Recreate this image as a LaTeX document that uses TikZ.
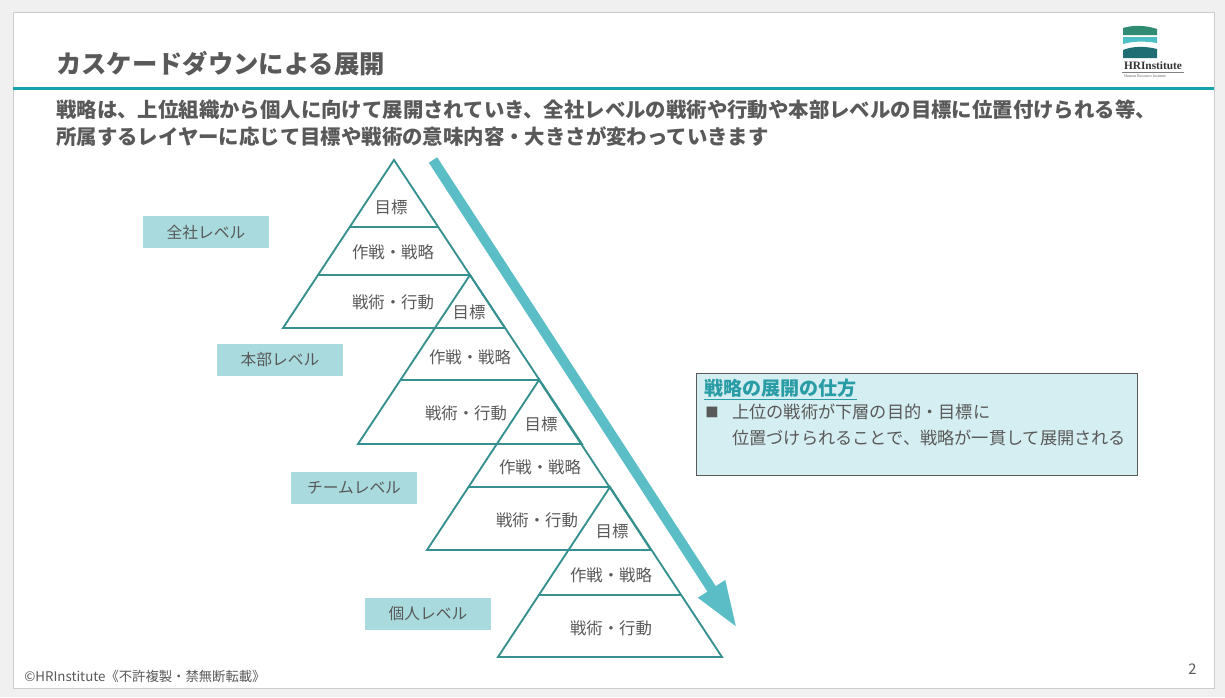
\documentclass[tikz,border=0pt]{standalone}
\usepackage{fontspec}
\setmainfont{Noto Sans CJK JP}
\newfontfamily\logofont{Liberation Serif}
\usetikzlibrary{arrows.meta}
\definecolor{txtgray}{HTML}{595959}
\definecolor{pyrline}{HTML}{35908F}
\definecolor{lvlfill}{HTML}{A8DADE}
\definecolor{flowcol}{HTML}{5BBEC6}
\definecolor{rulecol}{HTML}{14A3AE}
\definecolor{boxfill}{HTML}{D5EEF1}
\definecolor{headcol}{HTML}{2A9CA5}
\definecolor{pagebg}{HTML}{F0F0F0}
\definecolor{logogreen}{HTML}{2F8C72}
\definecolor{logocyan}{HTML}{4DC0C6}
\definecolor{logodark}{HTML}{1F6E73}

\begin{document}
\begin{tikzpicture}[x=0.75pt,y=-0.75pt,
    pyr/.style={draw=pyrline,line width=1.4pt},
    lab/.style={text=txtgray,inner sep=0pt,font=\fontsize{12.3}{14}\selectfont},
    lvl/.style={fill=lvlfill,text=txtgray,inner sep=0pt,minimum width=95pt,minimum height=24pt,font=\fontsize{11.8}{14}\selectfont},
    flow/.style={draw=flowcol,line width=7.5pt,-{Triangle[length=35pt,width=22pt]}},
    infobox/.style={draw=txtgray,fill=boxfill,line width=0.6pt,inner sep=0pt,minimum width=330.75pt,minimum height=76.5pt},
    boxtxt/.style={anchor=west,text=txtgray,inner sep=0pt,font=\fontsize{12.9}{15}\selectfont},
    plain/.style={anchor=west,text=txtgray,inner sep=0pt}]
        \useasboundingbox (0,0) rectangle (1225,697);
        \fill[pagebg] (0,0) rectangle (1225,697);
        \filldraw[fill=white,draw=black!20,line width=0.6pt] (13,12) rectangle (1214,688);
        \fill[rulecol] (13,86.5) rectangle (1214,89.5);

        \node[plain,font=\bfseries\fontsize{19}{22}\selectfont] (TITLE) at (56,64) {カスケードダウンによる展開};
        \node[plain,font=\bfseries\fontsize{15.3}{18}\selectfont] (SUB1) at (56,110) {戦略は、上位組織から個人に向けて展開されていき、全社レベルの戦術や行動や本部レベルの目標に位置付けられる等、};
        \node[plain,font=\bfseries\fontsize{15.3}{18}\selectfont] (SUB2) at (56,137) {所属するレイヤーに応じて目標や戦術の意味内容・大きさが変わっていきます};

        \fill[logogreen] (1123,28) .. controls (1133,25) and (1145,25) .. (1157,29) -- (1157,35) -- (1123,35) -- cycle;
        \fill[logocyan] (1123,37) -- (1157,37) -- (1157,43) .. controls (1145,41) and (1133,41) .. (1123,44) -- cycle;
        \fill[logodark] (1123,50) .. controls (1133,46) and (1145,46) .. (1157,49) -- (1157,58) -- (1123,58) -- cycle;
        \node[inner sep=0pt,text=black!80,font=\logofont\bfseries\fontsize{8.5}{10}\selectfont] (LOGO) at (1153,66) {HRInstitute};
        \draw[black!50,line width=0.4pt] (1122,72) -- (1184,72);
        \node[anchor=west,inner sep=0pt,text=black!60,font=\logofont\fontsize{3}{3}\selectfont] (LOGOSUB) at (1124,76) {Human Resource Institute};

        \draw[pyr] (394,160) -- (283,328) -- (505,328) -- cycle;
        \draw[pyr] (350,227) -- (438,227);
        \draw[pyr] (318,275) -- (470,275);
        \draw[pyr] (470,275) -- (358,444) -- (582,444) -- cycle;
        \draw[pyr] (401,380) -- (539,380);
        \draw[pyr] (539,380) -- (427,550) -- (651,550) -- cycle;
        \draw[pyr] (469,487) -- (610,487);
        \draw[pyr] (610,487) -- (498,657) -- (722,657) -- cycle;
        \draw[pyr] (539,595) -- (681,595);

        \node[lab] (G1) at (391,207) {目標};
        \node[lab] (S1) at (393,252) {作戦・戦略};
        \node[lab] (K1) at (393,302) {戦術・行動};
        \node[lab] (G2) at (469,312) {目標};
        \node[lab] (S2) at (470,357) {作戦・戦略};
        \node[lab] (K2) at (466,413) {戦術・行動};
        \node[lab] (G3) at (541,424) {目標};
        \node[lab] (S3) at (540,467) {作戦・戦略};
        \node[lab] (K3) at (537,520) {戦術・行動};
        \node[lab] (G4) at (612,531) {目標};
        \node[lab] (S4) at (611,575) {作戦・戦略};
        \node[lab] (K4) at (611,628) {戦術・行動};

        \node[lvl] (L1) at (206,232) {全社レベル};
        \node[lvl] (L2) at (280,360) {本部レベル};
        \node[lvl] (L3) at (354,488) {チームレベル};
        \node[lvl] (L4) at (428,614) {個人レベル};

        \coordinate (FS) at (433,160);
        \coordinate (FE) at (737,628);
        \draw[flow] (FS) -- (FE);

        \node[infobox] (BOX) at (916.5,424) {};
        \node[boxtxt,text=headcol,font=\bfseries\fontsize{14.3}{16}\selectfont] (HEAD) at (704,390) {\underline{戦略の展開の仕方}};
        \node[boxtxt,font=\fontsize{10}{12}\selectfont] (BUL) at (705,412) {■};
        \node[boxtxt] (B1) at (732,412) {上位の戦術が下層の目的・目標に};
        \node[boxtxt] (B2) at (732,438) {位置づけられることで、戦略が一貫して展開される};

        \node[plain,font=\fontsize{10}{12}\selectfont] (COPY) at (24,676) {©HRInstitute《不許複製・禁無断転載》};
        \node[plain,font=\fontsize{11}{13}\selectfont] (PAGE) at (1188,669) {2};
      \end{tikzpicture}
\end{document}
